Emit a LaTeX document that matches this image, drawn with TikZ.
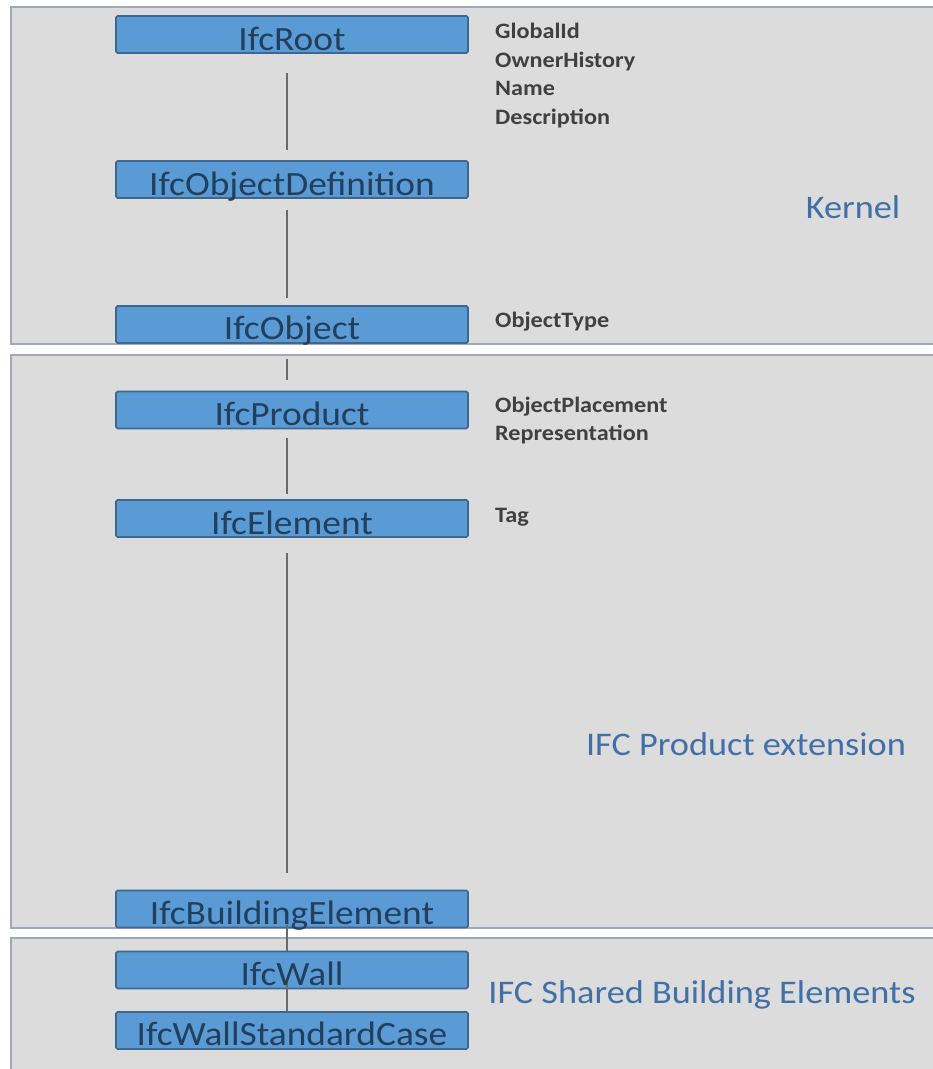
\documentclass[tikz,border=0pt]{standalone}
\usepackage{fontspec}
\setmainfont{Carlito}[FakeStretch=1.1]
\newfontfamily\attrfont{Carlito}[FakeStretch=1.1]
\definecolor{panelfill}{HTML}{DCDCDC}
\definecolor{panelline}{HTML}{9DA9BA}
\definecolor{boxfill}{HTML}{5B9BD5}
\definecolor{boxline}{HTML}{3E6790}
\definecolor{boxtext}{HTML}{22405E}
\definecolor{labeltext}{HTML}{4170A8}
\definecolor{attrtext}{HTML}{404040}
\definecolor{connline}{HTML}{6A6A6A}
\tikzset{
  panel/.style={fill=panelfill, draw=panelline, line width=1.5pt},
  classbox/.style={draw=boxline, fill=boxfill, line width=1.6pt, rounded corners=1.5pt,
    minimum width=352pt, minimum height=37pt, inner sep=0pt},
  boxlabel/.style={anchor=base, font=\fontsize{34}{40}\selectfont, text=boxtext, inner sep=0pt},
  attr/.style={anchor=base west, font=\attrfont\bfseries\fontsize{22}{28}\selectfont, text=attrtext, inner sep=0pt, align=left},
  group/.style={anchor=base, font=\fontsize{33}{40}\selectfont, text=labeltext, inner sep=0pt},
  conn/.style={draw=connline, line width=1.6pt}
}
\begin{document}
\begin{tikzpicture}[x=1pt,y=-1pt]
\useasboundingbox (0,0) rectangle (933,1069);
\fill[white] (0,0) rectangle (933,1069);
% panels
\path[panel] (11,7) rectangle (945,344);
\path[panel] (11,355) rectangle (945,928);
\path[panel] (11,938) rectangle (945,1080);
% boxes
\node[classbox] (root)   at (292,34.5)  {};
\node[classbox] (objdef) at (292,179.5) {};
\node[classbox] (obj)    at (292,324.5) {};
\node[classbox] (prod)   at (292,410)   {};
\node[classbox] (elem)   at (292,518.5) {};
\node[classbox] (bel)    at (292,909)   {};
\node[classbox] (wall)   at (292,970)   {};
\node[classbox] (wsc)    at (292,1030.5){};
% connectors
\coordinate (c1a) at ([xshift=-5pt,yshift=-19pt]root.south);
\coordinate (c1b) at ([xshift=-5pt,yshift=10pt]objdef.north);
\draw[conn] (c1a) -- (c1b);
\coordinate (c2a) at ([xshift=-5pt,yshift=-11pt]objdef.south);
\coordinate (c2b) at ([xshift=-5pt,yshift=7pt]obj.north);
\draw[conn] (c2a) -- (c2b);
\coordinate (c3a) at ([xshift=-5pt,yshift=-15pt]obj.south);
\coordinate (c3b) at ([xshift=-5pt,yshift=11pt]prod.north);
\draw[conn] (c3a) -- (c3b);
\coordinate (c4a) at ([xshift=-5pt,yshift=-9pt]prod.south);
\coordinate (c4b) at ([xshift=-5pt,yshift=5pt]elem.north);
\draw[conn] (c4a) -- (c4b);
\coordinate (c5a) at ([xshift=-5pt,yshift=-15pt]elem.south);
\coordinate (c5b) at ([xshift=-5pt,yshift=17pt]bel.north);
\draw[conn] (c5a) -- (c5b);
\draw[conn] ([xshift=-5pt,yshift=3pt]bel.south) -- ([xshift=-5pt]wall.north);
\draw[conn] ([xshift=-5pt,yshift=8pt]wall.south) -- ([xshift=-5pt]wsc.north);
% box labels
\node[boxlabel] (troot)   at (292,50)   {IfcRoot};
\node[boxlabel] (tobjdef) at (292,195)  {IfcObjectDefinition};
\node[boxlabel] (tobj)    at (292,339)  {IfcObject};
\node[boxlabel] (tprod)   at (292,425)  {IfcProduct};
\node[boxlabel] (telem)   at (292,534)  {IfcElement};
\node[boxlabel] (tbel)    at (292,924)  {IfcBuildingElement};
\node[boxlabel] (twall)   at (292,985)  {IfcWall};
\node[boxlabel] (twsc)    at (292,1045) {IfcWallStandardCase};
% attributes
\node[attr] (a1) at (495,38)  {GlobalId};
\node[attr] (a2) at (495,67)  {OwnerHistory};
\node[attr] (a3) at (495,95)  {Name};
\node[attr] (a4) at (495,124) {Description};
\node[attr] (a5) at (495,327) {ObjectType};
\node[attr] (a6) at (495,412) {ObjectPlacement};
\node[attr] (a7) at (495,440) {Representation};
\node[attr] (a8) at (495,522) {Tag};
% group labels
\node[group] (gk) at (853,218) {Kernel};
\node[group] (gp) at (746,755) {IFC Product extension};
\node[group] (gs) at (702,1003) {IFC Shared Building Elements};
\end{tikzpicture}
\end{document}
